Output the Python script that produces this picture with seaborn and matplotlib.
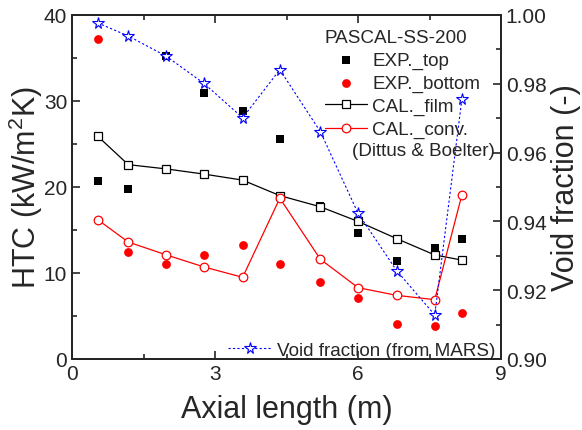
import matplotlib
matplotlib.use("Agg")
import matplotlib.pyplot as plt
import seaborn as sns
import numpy as np
import pandas as pd
from matplotlib.ticker import MultipleLocator, FormatStrFormatter

axial = [0.54, 1.18, 1.98, 2.77, 3.58, 4.36, 5.21, 6.00, 6.81, 7.61, 8.18]
exp_top = [20.7, 19.8, 35.2, 30.9, 28.8, 25.6, 17.8, 14.7, 11.4, 12.9, 14.0]
exp_bottom = [37.2, 12.5, 11.0, 12.1, 13.3, 11.0, 9.0, 7.1, 4.1, 3.8, 5.3]
cal_film = [25.9, 22.6, 22.1, 21.5, 20.8, 19.0, 17.7, 16.0, 14.0, 12.1, 11.5]
cal_conv = [16.2, 13.6, 12.1, 10.7, 9.5, 18.7, 11.6, 8.3, 7.4, 6.9, 19.1]
void_frac = [0.9977, 0.9939, 0.988, 0.9801, 0.9701, 0.9841, 0.9661, 0.9424, 0.9257, 0.9128, 0.9756]

sns.set_style("ticks")
plt.rcParams['font.family'] = ['Liberation Sans', 'DejaVu Sans']
plt.rcParams['mathtext.fontset'] = 'custom'
plt.rcParams['mathtext.rm'] = 'Liberation Sans'
plt.rcParams['mathtext.it'] = 'Liberation Sans'

df = pd.DataFrame({"x": axial, "top": exp_top, "bottom": exp_bottom,
                   "film": cal_film, "conv": cal_conv, "void": void_frac})

fig = plt.figure(figsize=(5.82, 4.31), dpi=100)
ax = fig.add_axes([72/582, 1-360/431, (501-72)/582, (360-16)/431])

sns.lineplot(data=df, x="x", y="film", ax=ax, sort=False, color="black", lw=0.9,
             marker="s", markersize=5.2, markerfacecolor="white", markeredgecolor="black",
             markeredgewidth=0.9, label="CAL._film", zorder=3)
sns.lineplot(data=df, x="x", y="conv", ax=ax, sort=False, color="red", lw=0.9,
             marker="o", markersize=6.2, markerfacecolor="white", markeredgecolor="red",
             markeredgewidth=0.9, label="CAL._conv.", zorder=3)
sns.scatterplot(data=df, x="x", y="top", ax=ax, color="black", marker="s", s=28,
                edgecolor="black", linewidth=0, label="EXP._top", zorder=2)
sns.scatterplot(data=df, x="x", y="bottom", ax=ax, color="red", marker="o", s=40,
                edgecolor="red", linewidth=0, label="EXP._bottom", zorder=2)

ax.set_xlim(0, 9)
ax.set_ylim(0, 40)
ax.xaxis.set_major_locator(MultipleLocator(3))
ax.xaxis.set_minor_locator(MultipleLocator(1.5))
ax.yaxis.set_major_locator(MultipleLocator(10))
ax.yaxis.set_minor_locator(MultipleLocator(5))
ax.tick_params(which="both", direction="in", top=True, labelsize=15, width=1.2)
ax.tick_params(which="major", length=6)
ax.tick_params(which="minor", length=3.5)
ax.set_xlabel("Axial length (m)", fontsize=22, labelpad=8)
ax.set_ylabel("HTC (kW/m$^2$K)", fontsize=22, labelpad=-1)
for s in ax.spines.values():
    s.set_linewidth(1.4)

ax2 = ax.twinx()
sns.lineplot(data=df, x="x", y="void", ax=ax2, sort=False, color="blue", lw=0.8,
             linestyle=(0, (2, 2)), marker="*", markersize=8.5, markerfacecolor="white",
             markeredgecolor="blue", markeredgewidth=0.8, label="Void fraction (from MARS)")
ax2.set_ylim(0.90, 1.00)
ax2.yaxis.set_major_locator(MultipleLocator(0.02))
ax2.yaxis.set_minor_locator(MultipleLocator(0.01))
ax2.yaxis.set_major_formatter(FormatStrFormatter("%.2f"))
ax2.tick_params(which="both", direction="in", labelsize=15, width=1.2)
ax2.tick_params(which="major", length=6)
ax2.tick_params(which="minor", length=3.5)
ax2.set_ylabel("Void fraction (-)", fontsize=22, labelpad=3)
for s in ax2.spines.values():
    s.set_linewidth(1.4)

h, l = ax.get_legend_handles_labels()
order = [l.index("EXP._top"), l.index("EXP._bottom"), l.index("CAL._film"), l.index("CAL._conv.")]
hs = [h[i] for i in order]
ls = [l[i] for i in order]
ax.get_legend().remove()
fs = 13.6
leg = ax2.legend(hs, ls, title="PASCAL-SS-200", loc="upper left", frameon=False,
                 fontsize=fs, title_fontsize=fs, handlelength=2.2, handletextpad=0.3,
                 labelspacing=0.30, borderpad=0, borderaxespad=0)
leg.set_bbox_to_anchor((325/582, 1-30/431), transform=fig.transFigure)
leg._legend_box.align = "left"
ax2.add_artist(leg)
fig.text(352/582, 1-151/431, "(Dittus & Boelter)", fontsize=fs, ha="left", va="center")

h2, l2 = ax2.get_legend_handles_labels()
leg2 = ax2.legend([h2[-1]], [l2[-1]], loc="lower left", frameon=False, fontsize=fs,
                  handlelength=2.3, handletextpad=0.27, borderpad=0, borderaxespad=0)
leg2.set_bbox_to_anchor((228/582, 1-360/431), transform=fig.transFigure)

fig.savefig("out.png", dpi=100)
